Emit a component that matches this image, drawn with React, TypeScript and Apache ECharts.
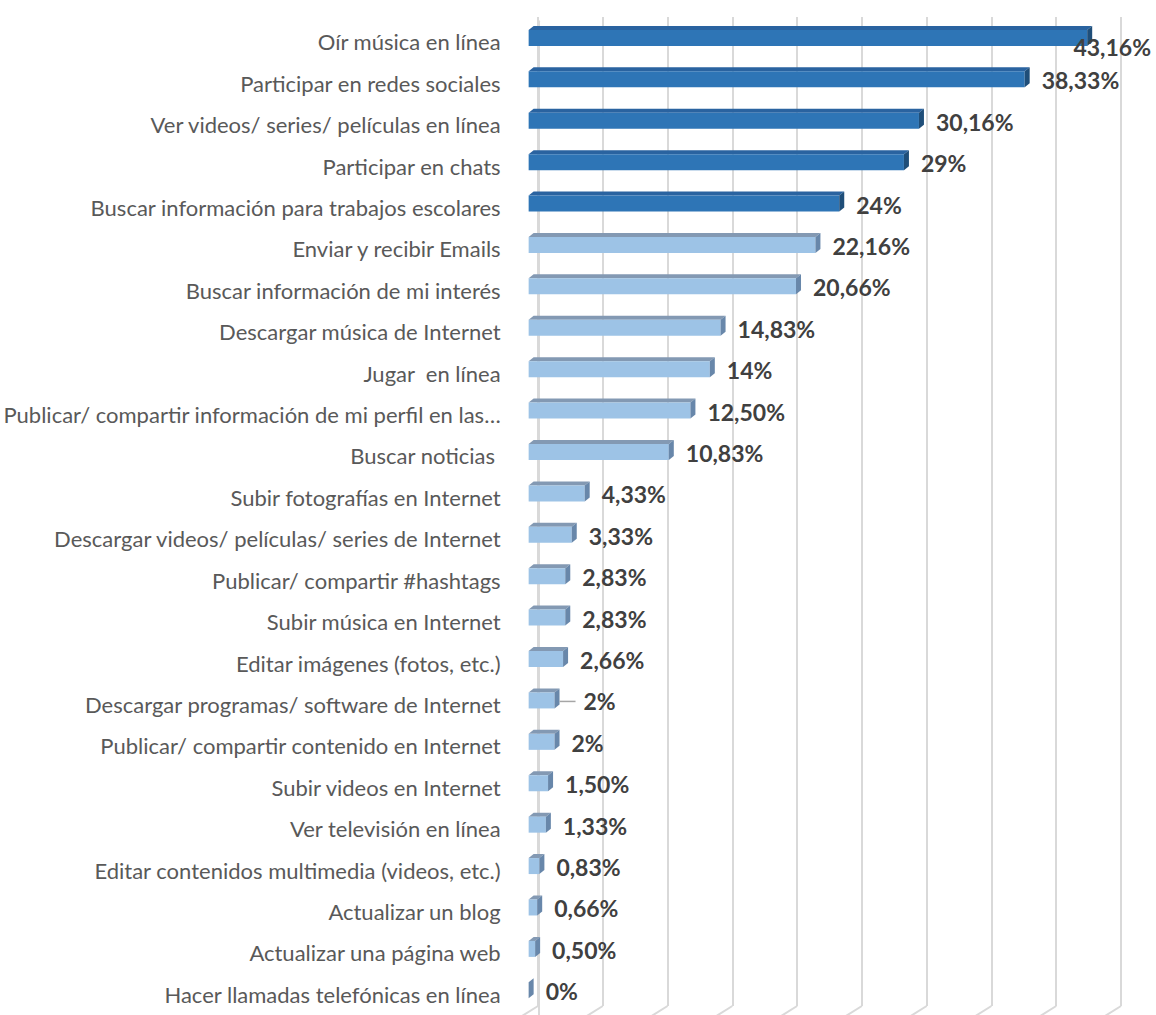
import React, { useEffect, useRef } from "react";
import * as echarts from "echarts";

const categories = [
  "Oír música en línea",
  "Participar en redes sociales",
  "Ver videos/ series/ películas en línea",
  "Participar en chats",
  "Buscar información para trabajos escolares",
  "Enviar y recibir Emails",
  "Buscar información de mi interés",
  "Descargar música de Internet",
  "Jugar  en línea",
  "Publicar/ compartir información de mi perfil en las…",
  "Buscar noticias ",
  "Subir fotografías en Internet",
  "Descargar videos/ películas/ series de Internet",
  "Publicar/ compartir #hashtags",
  "Subir música en Internet",
  "Editar imágenes (fotos, etc.)",
  "Descargar programas/ software de Internet",
  "Publicar/ compartir contenido en Internet",
  "Subir videos en Internet",
  "Ver televisión en línea",
  "Editar contenidos multimedia (videos, etc.)",
  "Actualizar un blog",
  "Actualizar una página web",
  "Hacer llamadas telefónicas en línea",
];

const values = [
  43.16, 38.33, 30.16, 29, 24, 22.16, 20.66, 14.83, 14, 12.5, 10.83, 4.33, 3.33,
  2.83, 2.83, 2.66, 2, 2, 1.5, 1.33, 0.83, 0.66, 0.5, 0,
];

const valueLabels = [
  "43,16%", "38,33%", "30,16%", "29%", "24%", "22,16%", "20,66%", "14,83%",
  "14%", "12,50%", "10,83%", "4,33%", "3,33%", "2,83%", "2,83%", "2,66%",
  "2%", "2%", "1,50%", "1,33%", "0,83%", "0,66%", "0,50%", "0%",
];

const xTicks = [0, 5, 10, 15, 20, 25, 30, 35, 40, 45];

const highlightCount = 5;
const leaderIndex = 16;

const darkColors = { front: "#2E75B6", top: "#2A63A0", side: "#1F4E79" };
const lightColors = { front: "#9DC3E6", top: "#8399B3", side: "#6887AA" };

export default function App() {
  const ref = useRef<HTMLDivElement>(null);

  useEffect(() => {
    if (!ref.current) return;
    const chart = echarts.init(ref.current, null, { renderer: "svg" });

    const renderBar = (params: any, api: any) => {
      const idx = api.value(0);
      const val = api.value(1);
      const p0 = api.coord([0, idx]);
      const p1 = api.coord([val, idx]);
      const c = p0[1];
      const shift = -10;
      const xs = p0[0] + shift;
      const xe = p1[0] + shift;
      const d = 5;
      const th = 4;
      const fh = 16;
      const yTop = c - 12;
      const col = idx < highlightCount ? darkColors : lightColors;
      const children: any[] = [];
      if (xe - xs > 0.1) {
        children.push({
          type: "polygon",
          shape: { points: [[xs, yTop], [xs + d, yTop - th], [xe + d, yTop - th], [xe, yTop]] },
          style: { fill: col.top },
        });
        children.push({
          type: "rect",
          shape: { x: xs, y: yTop, width: xe - xs, height: fh },
          style: { fill: col.front },
        });
      }
      children.push({
        type: "polygon",
        shape: { points: [[xe, yTop], [xe + d, yTop - th], [xe + d, yTop + fh - th], [xe, yTop + fh]] },
        style: { fill: col.side },
      });

      const cs = params.coordSys;
      let lx = xe + d + 12;
      let ly = c - 3;
      let align = "left";
      if (lx > cs.x + cs.width - 40) {
        lx = cs.x + cs.width + 30;
        ly = c + 5;
        align = "right";
      }
      if (idx === leaderIndex) {
        children.push({
          type: "line",
          shape: { x1: xe + d, y1: ly, x2: xe + d + 16, y2: ly },
          style: { stroke: "#A6A6A6", lineWidth: 1.5 },
        });
        lx += 12;
      }
      children.push({
        type: "text",
        x: lx,
        y: ly,
        style: {
          text: valueLabels[idx],
          fill: "#404040",
          font: "bold 23px Lato",
          align: align,
          verticalAlign: "middle",
        },
      });
      return { type: "group", children };
    };

    const renderFloor = (params: any, api: any) => {
      const p = api.coord([api.value(0), 0]);
      return {
        type: "line",
        shape: { x1: p[0], y1: p[1], x2: p[0] - 16, y2: p[1] + 10 },
        style: { stroke: "#D9D9D9", lineWidth: 2 },
      };
    };

    chart.setOption({
      animation: false,
      backgroundColor: "#ffffff",
      grid: [
        { left: 538, right: 35, top: 17, height: 989 },
        { left: 538, right: 35, top: 21.2, height: 996.5 },
      ],
      xAxis: [
        {
          gridIndex: 0,
          type: "value",
          min: 0,
          max: 45,
          interval: 5,
          axisLabel: { show: false },
          axisLine: { show: false },
          axisTick: { show: false },
          splitLine: { show: true, lineStyle: { color: "#D9D9D9", width: 2 } },
        },
        {
          gridIndex: 1,
          type: "value",
          min: 0,
          max: 45,
          interval: 5,
          axisLabel: { show: false },
          axisLine: { show: false },
          axisTick: { show: false },
          splitLine: { show: false },
        },
      ],
      yAxis: [
        {
          gridIndex: 0,
          type: "value",
          min: 0,
          max: 1,
          show: false,
        },
        {
          gridIndex: 1,
          type: "category",
          inverse: true,
          data: categories,
          offset: 16,
          axisLine: { show: true, lineStyle: { color: "#D9D9D9", width: 2 } },
          axisTick: { show: false },
          axisLabel: {
            color: "#595959",
            fontSize: 22,
            fontFamily: "Lato",
            margin: 22,
          },
        },
      ],
      series: [
        {
          type: "custom",
          xAxisIndex: 0,
          yAxisIndex: 0,
          renderItem: renderFloor,
          clip: false,
          data: xTicks.map((t) => [t]),
          silent: true,
        },
        {
          type: "custom",
          xAxisIndex: 1,
          yAxisIndex: 1,
          renderItem: renderBar,
          clip: false,
          encode: { x: 1, y: 0 },
          data: values.map((v, i) => [i, v]),
        },
      ],
    });

    return () => chart.dispose();
  }, []);

  return (
    <div
      ref={ref}
      style={{ position: "absolute", left: 0, top: 0, width: 1156, height: 1015 }}
    />
  );
}
